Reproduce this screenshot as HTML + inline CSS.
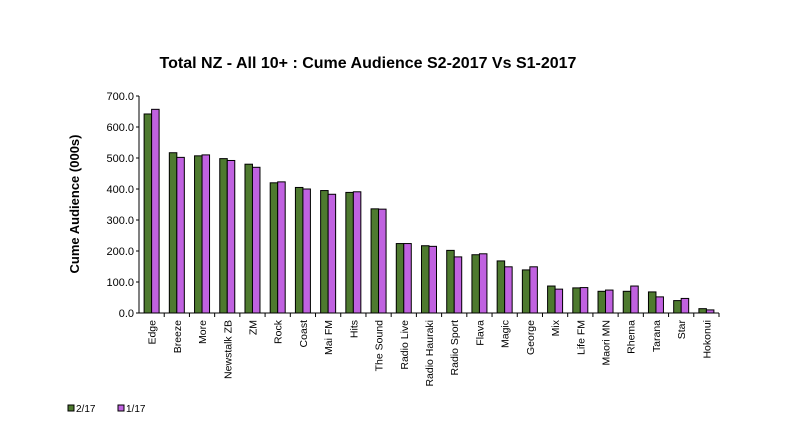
<!DOCTYPE html>
<html><head><meta charset="utf-8"><style>
body{margin:0;background:#fff;width:795px;height:437px;overflow:hidden;font-family:"Liberation Sans",Arial,sans-serif}
</style></head><body>
<svg id="chart" width="795" height="437" xmlns="http://www.w3.org/2000/svg" font-family="Liberation Sans, Arial, sans-serif">
<text x="368" y="68" text-anchor="middle" font-size="16" font-weight="bold">Total NZ - All 10+ : Cume Audience S2-2017 Vs S1-2017</text>
<text transform="translate(79,204) rotate(-90)" text-anchor="middle" font-size="13" font-weight="bold">Cume Audience (000s)</text>
<g id="axes"></g><g id="bars"></g>
<g>
<rect x="68" y="405" width="6" height="6" fill="#4e7a2f" stroke="#000" stroke-width="1"/>
<text x="76" y="412" font-size="10">2/17</text>
<rect x="118" y="405" width="6" height="6" fill="#c062e0" stroke="#000" stroke-width="1"/>
<text x="126" y="412" font-size="10">1/17</text>
</g>
</svg>
<script>
const categories=["Edge","Breeze","More","Newstalk ZB","ZM","Rock","Coast","Mai FM","Hits","The Sound","Radio Live","Radio Hauraki","Radio Sport","Flava","Magic","George","Mix","Life FM","Maori MN","Rhema","Tarana","Star","Hokonui"];
const s2=[642,517,507,498,480,420,405,395,389,336,224,217,202,188,168,139,87,81,70,70,68,40,14];
const s1=[657,502,510,492,470,423,400,383,391,335,224,215,181,191,149,149,77,82,74,87,52,47,10];
const yTicks=["0.0","100.0","200.0","300.0","400.0","500.0","600.0","700.0"];
const NS="http://www.w3.org/2000/svg";
const x0=139,x1=719,y0=313,y1=96,yMax=700;
const yS=v=>y0-(v/yMax)*(y0-y1);
const gw=(x1-x0)/categories.length;
const xS=i=>x0+gw*i;
function mk(t,a,p){const e=document.createElementNS(NS,t);for(const k in a)e.setAttribute(k,a[k]);p.appendChild(e);return e;}
const ax=document.getElementById('axes'),bars=document.getElementById('bars');
let l=mk('line',{x1:x0,y1:y1,x2:x0,y2:y0,stroke:'#000'},ax);


l=mk('line',{x1:x0,y1:y0,x2:x1,y2:y0,stroke:'#000'},ax);


yTicks.forEach((t,i)=>{const v=parseFloat(t);const y=yS(v);
 mk('line',{x1:x0-3,y1:y,x2:x0,y2:y,stroke:'#000'},ax);
 const tx=mk('text',{x:x0-5,y:y+4,'text-anchor':'end','font-size':11},ax);tx.textContent=t;
 
 });
categories.forEach((c,i)=>{
 mk('line',{x1:xS(i+1),y1:y0,x2:xS(i+1),y2:y0+4,stroke:'#000'},ax);
 const cx=xS(i)+gw/2;
 const tx=mk('text',{transform:`translate(${cx+4},${y0+7}) rotate(-90)`,'text-anchor':'end','font-size':10.5},ax);tx.textContent=c;
 
 
 const bw=7.5;
 let r=mk('rect',{x:cx-bw,y:yS(s2[i]),width:bw,height:y0-yS(s2[i]),fill:'#4e7a2f',stroke:'#000','stroke-width':1},bars);
 
 
 r=mk('rect',{x:cx,y:yS(s1[i]),width:bw,height:y0-yS(s1[i]),fill:'#c062e0',stroke:'#000','stroke-width':1},bars);
 
 
});
</script>
</body></html>
